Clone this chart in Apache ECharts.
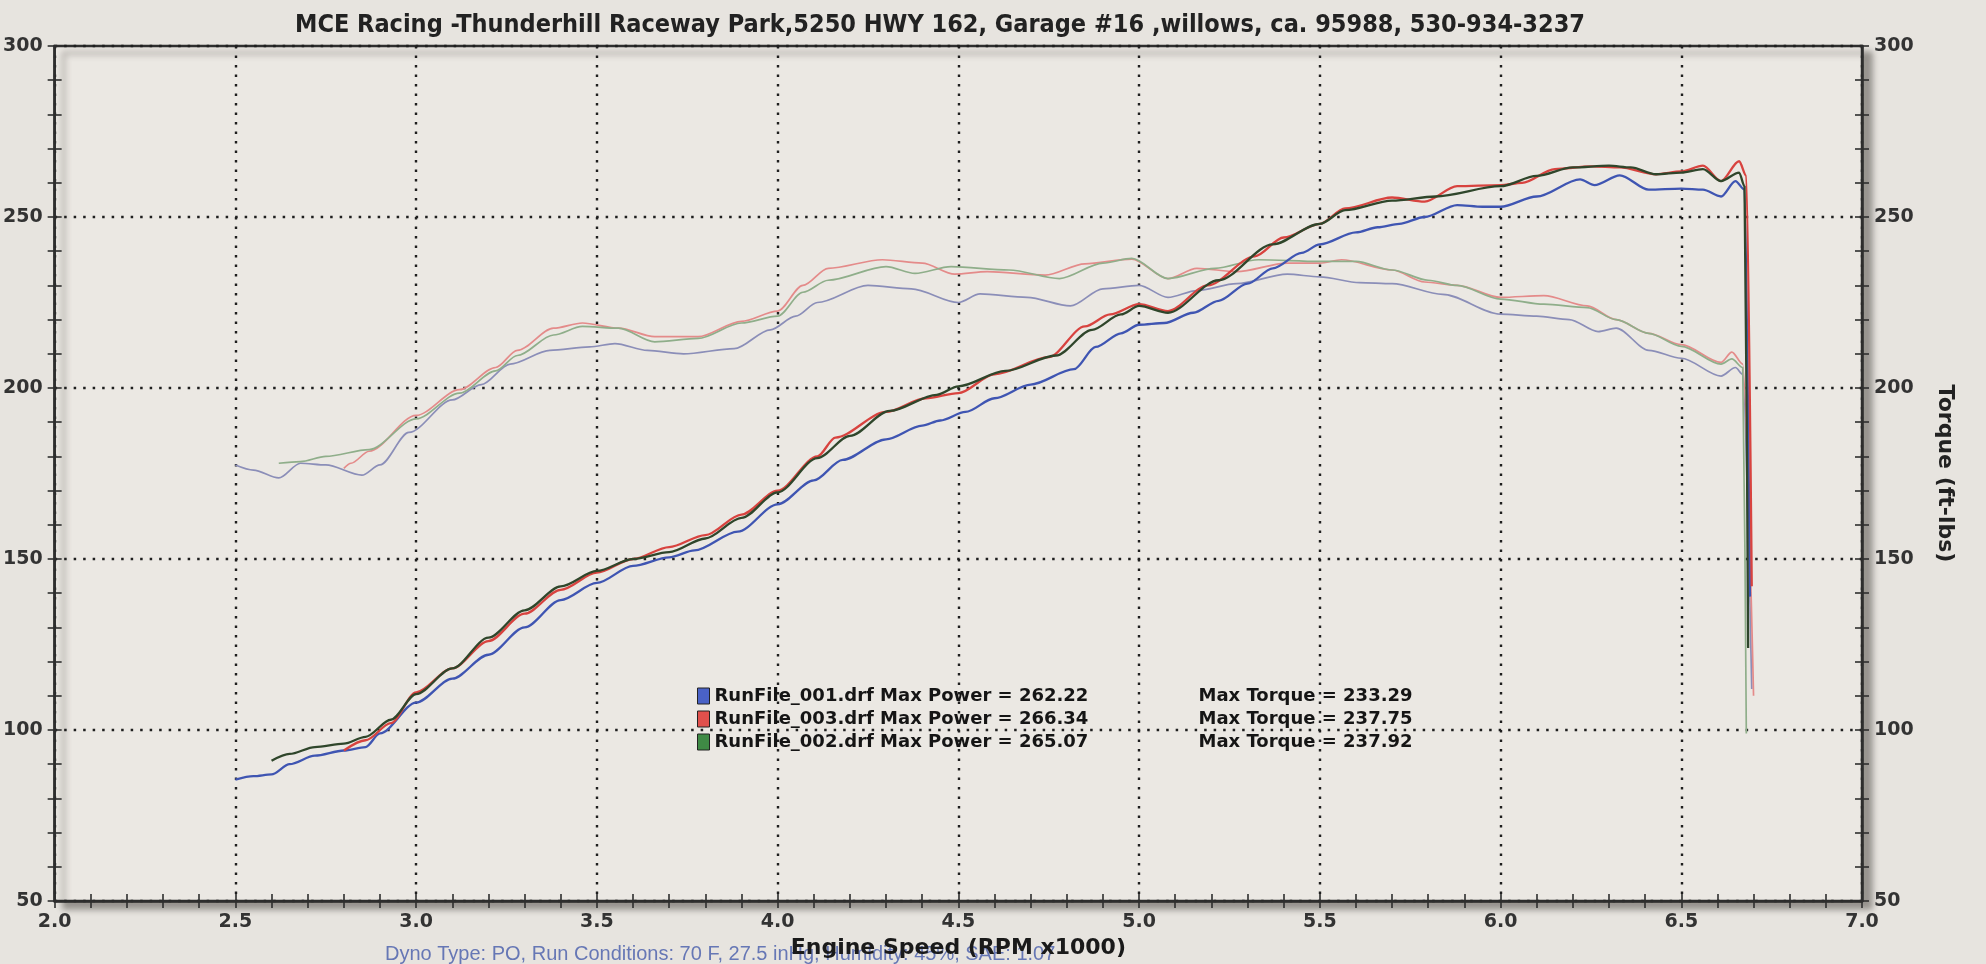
<!DOCTYPE html>
<html>
<head>
<meta charset="utf-8">
<script src="https://cdn.jsdelivr.net/npm/echarts@6/dist/echarts.min.js"></script>
<style>
html,body{margin:0;padding:0;background:#e7e4df;}
#chart{width:1986px;height:964px;}
</style>
</head>
<body>
<div id="chart"></div>
<script>
// ---- data (rpm x1000, hp / ft-lbs) ----
const runNames = ['RunFile_001.drf', 'RunFile_003.drf', 'RunFile_002.drf'];
const maxPower = ['262.22', '266.34', '265.07'];
const maxTorque = ['233.29', '237.75', '237.92'];
const xTicks = [2.0, 2.5, 3.0, 3.5, 4.0, 4.5, 5.0, 5.5, 6.0, 6.5, 7.0];
const yTicks = [50, 100, 150, 200, 250, 300];

// Run 001 (blue)
const rpmP001 = [2.50,2.55,2.60,2.65,2.72,2.80,2.86,2.90,3.00,3.10,3.20,3.30,3.40,3.50,3.60,3.70,3.77,3.89,4.00,4.10,4.18,4.30,4.40,4.45,4.52,4.60,4.70,4.82,4.88,4.95,5.00,5.07,5.15,5.22,5.30,5.37,5.45,5.50,5.60,5.66,5.72,5.79,5.88,5.95,6.00,6.10,6.22,6.26,6.33,6.41,6.50,6.56,6.61,6.65,6.675,6.69];
const hp001   = [85.5,86.5,87,90,92.5,94,95,99,108,115,122,130,138,143,148,150.5,152.5,158,166,173,179,185,189,190.5,193,197,201,205.5,212,216,218.5,219,222,225.5,230.5,235,239.5,242,245.5,247,248,250,253.5,253,253,256,261,259.3,262.2,258,258.3,258,256,260.5,258,139];
const rpmT001 = [2.50,2.55,2.62,2.68,2.75,2.85,2.90,2.98,3.10,3.18,3.26,3.37,3.48,3.55,3.64,3.74,3.88,3.98,4.05,4.11,4.25,4.37,4.50,4.56,4.69,4.81,4.90,5.00,5.08,5.16,5.27,5.41,5.50,5.61,5.70,5.84,6.00,6.10,6.19,6.27,6.32,6.41,6.50,6.61,6.65,6.67,6.695];
const tq001   = [177.5,176,173.7,178,177.5,174.5,177.5,187,196.5,201,207,211,212,213,211,210,211.5,217,221,225,230,229,225,227.5,226.5,224,229,230,226.5,228.5,230.5,233.3,232.5,230.8,230.5,227.4,221.6,221,220,216.5,217.5,211,208.7,203.5,206,204,112];

// Run 003 (red)
const rpmP003 = [2.80,2.86,2.93,3.00,3.10,3.20,3.30,3.40,3.50,3.60,3.70,3.80,3.90,4.00,4.11,4.16,4.30,4.41,4.50,4.60,4.75,4.85,4.92,5.00,5.08,5.19,5.32,5.40,5.50,5.57,5.70,5.79,5.88,6.00,6.06,6.15,6.25,6.33,6.43,6.50,6.56,6.61,6.66,6.68,6.695];
const hp003   = [94,97,102,111,118,126,134,141,146,150,153.5,157,163,170,180,185.5,193,197,198.5,204,209,218,221.5,224.5,222.5,230,238.5,244,248,252.5,255.7,254.5,259,259.3,260,264,264.8,264.5,262.5,263.3,265,260.5,266.3,262,142];
const rpmT003 = [2.80,2.82,2.87,3.00,3.12,3.22,3.28,3.38,3.46,3.56,3.66,3.78,3.90,4.00,4.07,4.14,4.29,4.40,4.49,4.58,4.74,4.85,4.98,5.08,5.16,5.27,5.41,5.50,5.56,5.70,5.79,5.88,6.00,6.12,6.24,6.32,6.41,6.50,6.61,6.64,6.67,6.70];
const tq003   = [176.5,178,181.5,192,199.5,206,211,217.5,219,217.5,215,215,219.5,222.5,230,235,237.5,236.5,233.3,234,233,236.3,237.7,232,235,234,236.5,236.5,237.5,234.5,231,230,226.5,227,224,220,216,212.7,207.5,210.5,207,110];

// Run 002 (green)
const rpmP002 = [2.60,2.65,2.72,2.80,2.86,2.93,3.00,3.10,3.20,3.30,3.40,3.50,3.60,3.70,3.80,3.90,4.00,4.11,4.20,4.31,4.44,4.50,4.63,4.77,4.87,4.95,5.00,5.08,5.22,5.37,5.50,5.57,5.70,5.82,6.00,6.10,6.20,6.30,6.36,6.43,6.50,6.56,6.61,6.66,6.675,6.685];
const hp002   = [91,93,95,96,98,103,110.5,118,127,135,142,146.5,150,152,156,162,169.5,179.5,186,193.3,198,200.5,205,209.5,217,221.5,224,222,231.5,242,248,252,254.8,256,259,262,264.5,265,264.5,262.5,263,264,260.5,263,259,124];
const rpmT002 = [2.62,2.68,2.75,2.87,3.00,3.12,3.22,3.28,3.38,3.46,3.56,3.66,3.78,3.90,4.00,4.07,4.14,4.30,4.38,4.48,4.64,4.78,4.90,4.98,5.08,5.21,5.33,5.50,5.60,5.70,5.80,5.88,6.00,6.12,6.24,6.32,6.41,6.50,6.61,6.64,6.67,6.68];
const tq002   = [178,178.5,180,182,191,198.5,205,209.5,215.5,218,217.5,213.5,214.5,219,221,228,231.5,235.5,233.5,235.5,234.5,232,236.5,237.9,232,235,237.5,237,237,234.5,231.5,230,226,224.5,223.5,220,216,212.2,207,208.5,206,99];

// ---- build chart ----
function pairs(xs, ys){ return xs.map((x,i)=>[x, ys[i]]); }

const FONT = "'DejaVu Sans', Verdana, sans-serif";
const axisCol = '#2e2e2e';
const dotted = {show:true, lineStyle:{color:'#1e1e1e', width:2.4, type:[2.5,7]}};

function xAx(main){
  return {
    type:'value', min:2, max:7, interval:0.5, position:'bottom', gridIndex:0,
    axisLine:{show:main, onZero:false, lineStyle:{color:axisCol, width:2.5}},
    axisTick:{show:true, inside:!main, length:7, lineStyle:{color:axisCol, width:1.6}},
    minorTick:{show:true, splitNumber:5, length:7, lineStyle:{color:axisCol, width:1.6}},
    axisLabel:{show:main, margin:12, color:'#333', fontFamily:FONT, fontWeight:'bold', fontSize:19,
      formatter:v=>xTicks.includes(Math.round(v*10)/10)? v.toFixed(1):''},
    splitLine: main ? dotted : {show:false},
    name: main ? 'Engine Speed (RPM x1000)' : '',
    nameLocation:'middle', nameGap:36,
    nameTextStyle:{color:'#1a1a1a', fontFamily:FONT, fontWeight:'bold', fontSize:22}
  };
}
function yAx(pos, main, showSplit, name){
  return {
    type:'value', min:50, max:300, interval:50, position:pos, gridIndex:0,
    axisLine:{show:main, onZero:false, lineStyle:{color:axisCol, width:2.5}},
    axisTick:{show:true, inside:!main, length:7, lineStyle:{color:axisCol, width:1.6}},
    minorTick:{show:true, splitNumber:5, length:7, lineStyle:{color:axisCol, width:1.6}},
    axisLabel:{show:main, margin:12, color:'#333', fontFamily:FONT, fontWeight:'bold', fontSize:19,
      formatter:v=>yTicks.includes(v)? String(v):''},
    splitLine: showSplit ? dotted : {show:false},
    name: name || '', nameLocation:'middle', nameGap:72, nameRotate:-90,
    nameTextStyle:{color:'#222', fontFamily:FONT, fontWeight:'bold', fontSize:22}
  };
}

const powerColors  = ['#3f55b2', '#d8433f', '#2f462b'];
const torqueColors = ['#8b8eb8', '#e48b8a', '#8fae8a'];
const legendColors = ['#4a62c6', '#e0504c', '#3f8a45'];
const powerData  = [pairs(rpmP001,hp001), pairs(rpmP003,hp003), pairs(rpmP002,hp002)];
const torqueData = [pairs(rpmT001,tq001), pairs(rpmT003,tq003), pairs(rpmT002,tq002)];

const series = [];
for (let i=0;i<3;i++){
  series.push({name:runNames[i], type:'line', xAxisIndex:0, yAxisIndex:1, data:torqueData[i],
    showSymbol:false, smooth:0.3, smoothMonotone:'x', z:2,
    lineStyle:{color:torqueColors[i], width:1.7}, itemStyle:{color:legendColors[i]}});
}
for (let i=0;i<3;i++){
  series.push({name:runNames[i], type:'line', xAxisIndex:0, yAxisIndex:0, data:powerData[i],
    showSymbol:false, smooth:0.3, smoothMonotone:'x', z:3,
    lineStyle:{color:powerColors[i], width:2.3}, itemStyle:{color:legendColors[i]}});
}

const chart = echarts.init(document.getElementById('chart'), null, {renderer:'canvas'});
chart.setOption({
  backgroundColor:'#e7e4df',
  animation:false,
  title:{
    text:'MCE Racing -Thunderhill Raceway Park,5250 HWY 162, Garage #16 ,willows, ca. 95988, 530-934-3237',
    left:290, top:8,
    textStyle:{fontFamily:"'Liberation Sans Narrow', 'DejaVu Sans Condensed', 'Liberation Sans', sans-serif",
      fontWeight:'bold', fontSize:25, color:'#222'}
  },
  grid:{left:43, right:124, top:46, bottom:60, show:true, backgroundColor:'#ebe8e3',
    borderColor:'#2e2e2e', borderWidth:2.5,
    shadowColor:'rgba(60,55,50,0.45)', shadowBlur:6, shadowOffsetX:9, shadowOffsetY:7},
  legend:{
    orient:'vertical', left:692, top:682, itemGap:5, itemWidth:12, itemHeight:16, icon:'rect',
    selectedMode:false,
    data: runNames.map((n,i)=>({name:n, itemStyle:{color:legendColors[i], borderColor:'#222', borderWidth:1}})),
    formatter: name => {
      const i = runNames.indexOf(name);
      return '{a|' + name + ' Max Power = ' + maxPower[i] + '}{b|Max Torque = ' + maxTorque[i] + '}';
    },
    textStyle:{color:'#151515', fontFamily:FONT, fontWeight:'bold', fontSize:18,
      rich:{a:{width:484, fontFamily:FONT, fontWeight:'bold', fontSize:18, color:'#151515'},
            b:{fontFamily:FONT, fontWeight:'bold', fontSize:18, color:'#151515'}}}
  },
  xAxis:[xAx(true), xAx(false)],
  yAxis:[yAx('left', true, true), yAx('right', true, false, 'Torque (ft-lbs)'), yAx('left', false, false), yAx('right', false, false)],
  graphic:[{type:'text', left:385, top:944, z:-1, silent:true,
    style:{text:'Dyno Type: PO, Run Conditions: 70 F, 27.5 inHg, Humidity: 45%, SAE: 1.07',
      fill:'#6677b5', font:"20px 'Liberation Sans Narrow', 'Liberation Sans', sans-serif"}}],
  series: series
});
</script>
</body>
</html>
